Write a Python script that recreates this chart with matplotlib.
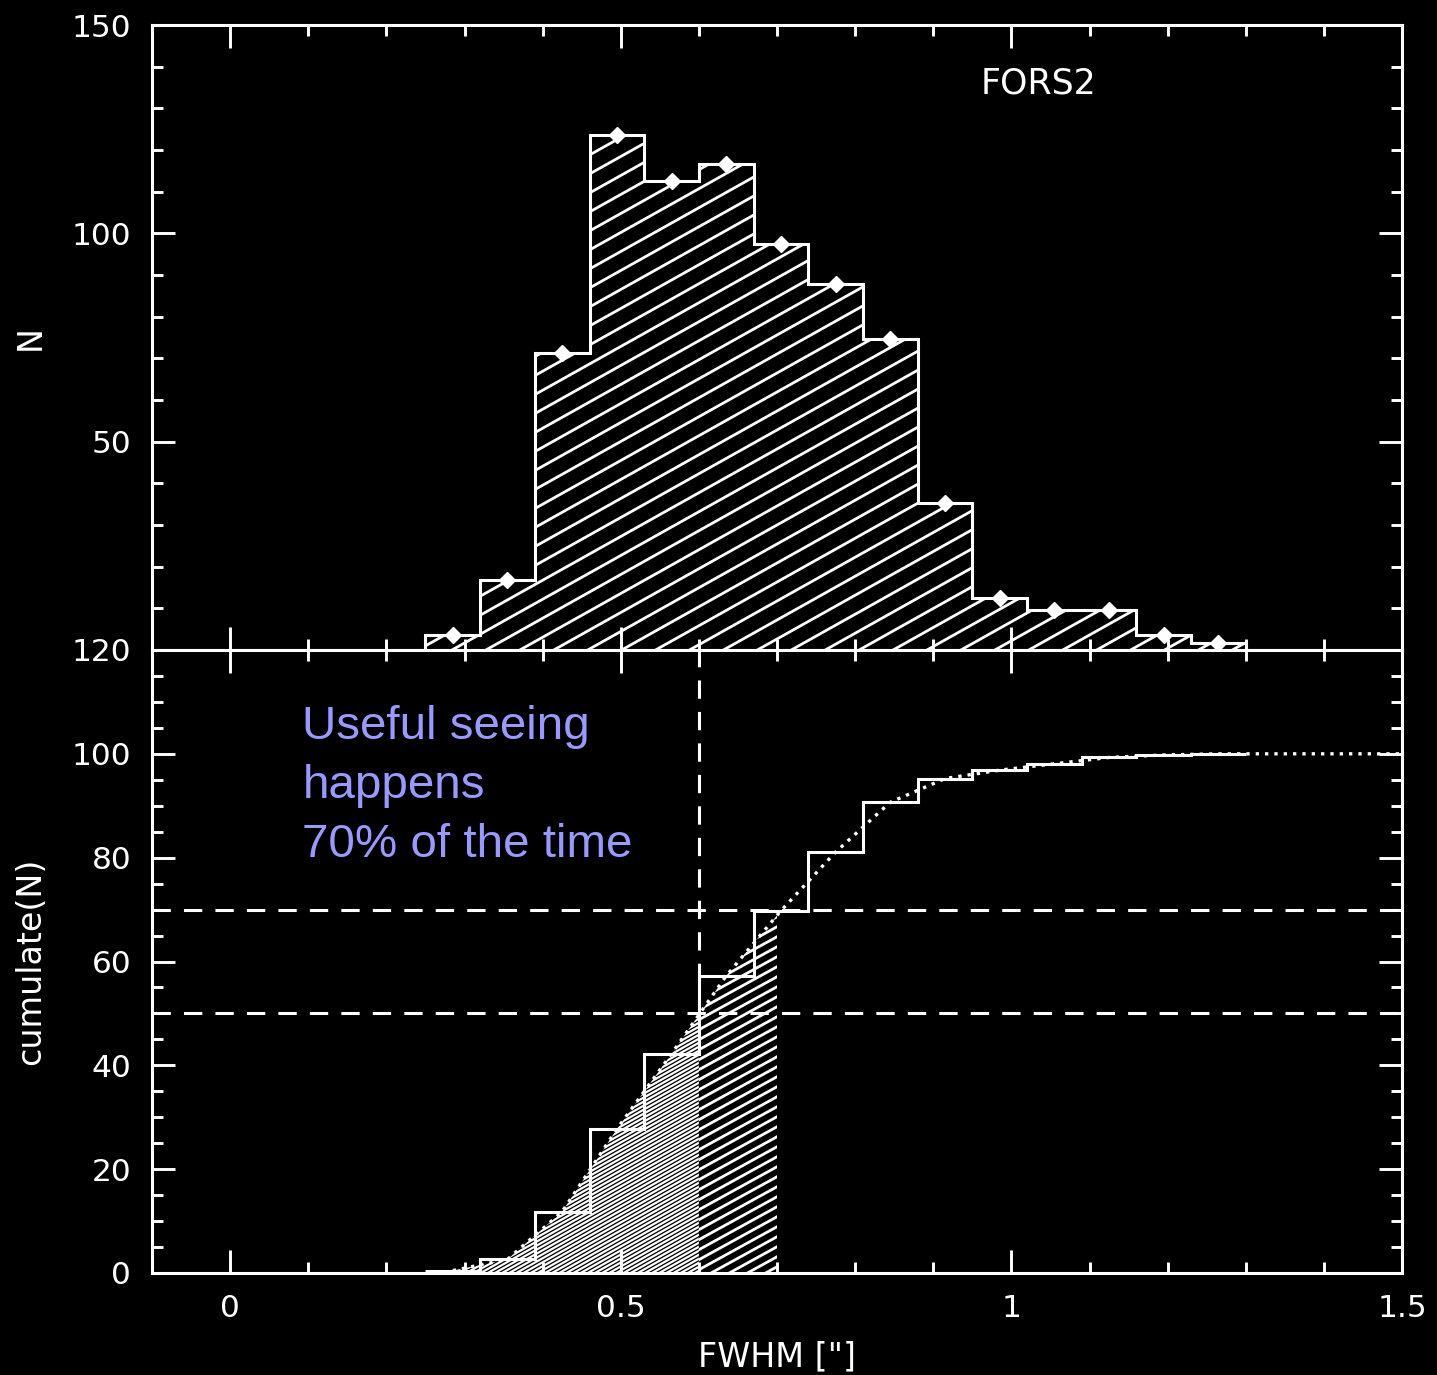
import numpy as np
import matplotlib
matplotlib.use("Agg")
import matplotlib.pyplot as plt
from matplotlib.collections import LineCollection
from matplotlib.patches import Polygon
from matplotlib.transforms import IdentityTransform
from matplotlib.ticker import MultipleLocator

# --- data -------------------------------------------------------------
fwhm_edges = [0.25, 0.32, 0.39, 0.46, 0.53, 0.60, 0.67, 0.74,
              0.81, 0.88, 0.95, 1.02, 1.09, 1.16, 1.23, 1.30]
n_counts = [3.7, 16.7, 71.3, 123.6, 112.6, 116.6, 97.4, 87.8,
            74.6, 35.4, 12.6, 9.5, 9.5, 3.7, 1.7]
curve_end_x = 1.5          # cumulative curve continues flat to the axis end
seeing_cut = 0.6           # FWHM limit marked by the vertical dashed line
useful_cut = 0.7           # upper end of the hatched "useful" band
pct_lines = [50, 70]       # horizontal reference levels (%)

x_ticks = [0, 0.5, 1, 1.5]
x_ticklabels = ["0", "0.5", "1", "1.5"]
top_yticks = [0, 50, 100, 150]
top_yticklabels = ["", "50", "100", "150"]
bot_yticks = [0, 20, 40, 60, 80, 100, 120]
bot_yticklabels = ["0", "20", "40", "60", "80", "100", "120"]

# --- derived ------------------------------------------------------------
edges = np.asarray(fwhm_edges)
counts = np.asarray(n_counts)
centers = 0.5 * (edges[:-1] + edges[1:])
cum_pct = np.cumsum(counts) / counts.sum() * 100.0
curve_x = np.append(centers, curve_end_x)
curve_y = np.append(cum_pct, 100.0)

# --- figure -------------------------------------------------------------
W, H = 1437, 1375
fig = plt.figure(figsize=(W / 100, H / 100), dpi=100, facecolor="black")
plt.rcParams["font.family"] = ["DejaVu Sans"]

left, right = 152 / W, 1402 / W
ax_top = fig.add_axes([left, (H - 650) / H, right - left, 625 / H])
ax_bot = fig.add_axes([left, (H - 1273) / H, right - left, 623 / H])

tick_fs = 22.5
label_fs = 24
spine_lw = 2.2

for ax in (ax_top, ax_bot):
    ax.set_facecolor("black")
    ax.set_xlim(-0.1, 1.5)
    for sp in ax.spines.values():
        sp.set_color("white")
        sp.set_linewidth(spine_lw)
    ax.set_xticks(x_ticks)
    ax.xaxis.set_minor_locator(MultipleLocator(0.1))
    ax.tick_params(which="both", direction="in", top=True, right=True,
                   colors="white", width=2.1, labelsize=tick_fs)
    ax.tick_params(which="major", length=16.5, pad=15)
    ax.tick_params(which="minor", length=8)

ax_top.set_ylim(0, 150)
ax_top.set_yticks(top_yticks)
ax_top.set_yticklabels(top_yticklabels)
ax_top.yaxis.set_minor_locator(MultipleLocator(10))
ax_top.tick_params(labelbottom=False)

ax_bot.set_ylim(0, 120)
ax_bot.set_yticks(bot_yticks)
ax_bot.set_yticklabels(bot_yticklabels)
ax_bot.yaxis.set_minor_locator(MultipleLocator(5))
ax_bot.set_xticklabels(x_ticklabels)


def hatch_lines(ax, clip_artist, spacing, slope, lw):
    """Parallel white lines in pixel space, clipped to an artist's outline."""
    fig.canvas.draw()
    bb = ax.bbox
    x0, x1, y0, y1 = bb.x0, bb.x1, bb.y0, bb.y1
    c_lo = y0 - slope * x1 - spacing
    c_hi = y1 - slope * x0 + spacing
    segs = [[(x0, slope * x0 + c), (x1, slope * x1 + c)]
            for c in np.arange(c_lo, c_hi, spacing)]
    lc = LineCollection(segs, transform=IdentityTransform(),
                        colors="white", linewidths=lw)
    ax.add_collection(lc, autolim=False)
    lc.set_clip_path(clip_artist)
    return lc


# --- top panel: histogram ----------------------------------------------
clip_hist = ax_top.stairs(counts, edges, fill=True, facecolor="none",
                          edgecolor="none")
hatch_lines(ax_top, clip_hist, spacing=19, slope=0.56, lw=2.0)
ax_top.stairs(counts, edges, color="white", linewidth=2.2)
ax_top.plot(centers, counts, ls="none", marker="D", ms=8,
            color="white", mec="white")
ax_top.text(1.035, 136, "FORS2", color="white", fontsize=25,
            ha="center", va="center")
ax_top.set_ylabel("N", color="white", fontsize=label_fs)
ax_top.yaxis.set_label_coords(-0.084, 0.5)


# --- bottom panel: cumulative distribution ------------------------------
def region_under_curve(xa, xb):
    inside = (curve_x > xa) & (curve_x < xb)
    xs = np.concatenate([[xa], curve_x[inside], [xb]])
    ys = np.interp(xs, curve_x, curve_y)
    verts = [(xa, 0)] + list(zip(xs, ys)) + [(xb, 0)]
    return verts


poly_a = Polygon(region_under_curve(curve_x[0], seeing_cut), closed=True,
                 facecolor="none", edgecolor="none")
poly_b = Polygon(region_under_curve(seeing_cut, useful_cut), closed=True,
                 facecolor="none", edgecolor="none")
ax_bot.add_patch(poly_a)
ax_bot.add_patch(poly_b)
hatch_lines(ax_bot, poly_a, spacing=4.0, slope=0.56, lw=1.6)
hatch_lines(ax_bot, poly_b, spacing=10, slope=0.55, lw=2.0)

ax_bot.stairs(cum_pct, edges, baseline=None, color="white", linewidth=2.2)
ax_bot.plot(curve_x, curve_y, color="white", lw=2.4, ls=(0, (1, 1.8)))

dash = (0, (6, 4.3))
for p in pct_lines:
    ax_bot.axhline(p, color="white", lw=2.2, ls=dash)
ax_bot.plot([seeing_cut, seeing_cut], [pct_lines[0], 120], color="white",
            lw=2.2, ls=dash, clip_on=False)

# anchored on the baseline of the last line
ax_bot.text(0.0924, 80.2, "Useful seeing\nhappens\n70% of the time",
            color="#9999ff", fontsize=34.2, family="Liberation Sans",
            ha="left", va="baseline", linespacing=1.43)

ax_bot.set_ylabel("cumulate(N)", color="white", fontsize=label_fs)
ax_bot.yaxis.set_label_coords(-0.084, 0.5)
ax_bot.set_xlabel('FWHM ["]', color="white", fontsize=label_fs)
ax_bot.xaxis.set_label_coords(0.5, -0.1075)
ax_bot.xaxis.label.set_va("top")

fig.savefig("out.png", dpi=100, facecolor="black")
